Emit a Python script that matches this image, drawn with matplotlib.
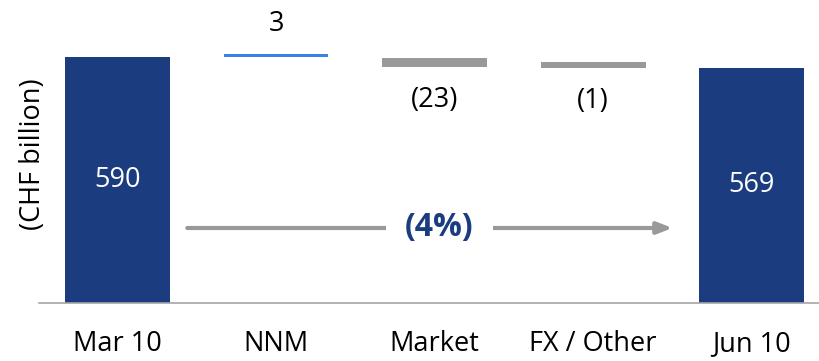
#!/usr/bin/env python3
"""Waterfall of invested assets, Mar 10 -> Jun 10 (CHF billion)."""

import matplotlib
matplotlib.use("Agg")
import matplotlib.pyplot as plt

plt.rcParams["font.family"] = ["Open Sans", "DejaVu Sans"]

CATEGORIES = ["Mar 10", "NNM", "Market", "FX / Other", "Jun 10"]
START_TOTAL = 590
DELTAS = [3, -23, -1]
END_TOTAL = 569

DARK_BLUE = "#1b3d80"
LIGHT_BLUE = "#3a80e8"
GREY = "#999999"

Y_MIN, Y_MAX = 120, 698
MIN_STEP = 8  # thin bars get a minimum visible thickness
FS = 19.5


def fmt(v: float) -> str:
    return f"({abs(v):.0f})" if v < 0 else f"{v:.0f}"


fig = plt.figure(figsize=(8.2, 3.61), dpi=100)
ax = fig.add_axes([0.0476, 0.1607, 0.9524, 0.8393])
x = list(range(len(CATEGORIES)))
width = 0.66

# totals
for xi, val in ((x[0], START_TOTAL), (x[-1], END_TOTAL)):
    ax.bar(xi, val, width=width, color=DARK_BLUE, zorder=2)
    ax.text(xi, (val + Y_MIN) / 2, fmt(val), ha="center", va="center",
            color="white", fontsize=FS)

# deltas
level = START_TOTAL
for xi, d in zip(x[1:-1], DELTAS):
    new = level + d
    if d >= 0:
        bottom = level
        height = max(d, MIN_STEP * 0.55)
        ax.bar(xi, height, bottom=bottom, width=width, color=LIGHT_BLUE, zorder=2)
        ax.annotate(fmt(d), (xi, bottom + height), xytext=(0, 22),
                    textcoords="offset points", ha="center", va="center",
                    fontsize=FS)
    else:
        bottom = new
        height = max(-d, MIN_STEP * 1.4)
        ax.bar(xi, min(height, 18), bottom=bottom, width=width, color=GREY, zorder=2)
        ax.annotate(fmt(d), (xi, bottom), xytext=(0, -24),
                    textcoords="offset points", ha="center", va="center",
                    fontsize=FS)
    level = new

# change arrow
pct = (END_TOTAL - START_TOTAL) / START_TOTAL * 100
arrow_y = 0.2475
trans = ax.get_xaxis_transform()
ax.annotate("", xy=(3.5, arrow_y), xytext=(0.44, arrow_y),
            xycoords=trans, textcoords=trans,
            arrowprops=dict(arrowstyle="-|>,head_length=0.9,head_width=0.35",
                            color=GREY, lw=3, shrinkA=0, shrinkB=0))
ax.text(2.03, arrow_y, f"({abs(pct):.0f}%)", transform=trans,
        ha="center", va="center", fontsize=23, fontweight="bold",
        color=DARK_BLUE,
        bbox=dict(boxstyle="square,pad=0.6", fc="white", ec="none"))

ax.set_xlim(-0.495, 4.43)
ax.set_ylim(Y_MIN, Y_MAX)
ax.set_xticks(x)
ax.set_xticklabels(CATEGORIES, fontsize=FS)
ax.tick_params(axis="x", length=0, pad=19.5)
ax.set_yticks([])
for side in ("top", "right", "left"):
    ax.spines[side].set_visible(False)
ax.spines["bottom"].set_color("#a6a6a6")
ax.spines["bottom"].set_linewidth(1.2)

fig.text(0.040, 0.573, "(CHF billion)", rotation=90, ha="center",
         va="center", fontsize=FS)

fig.savefig("out.png", dpi=100, facecolor="white")
